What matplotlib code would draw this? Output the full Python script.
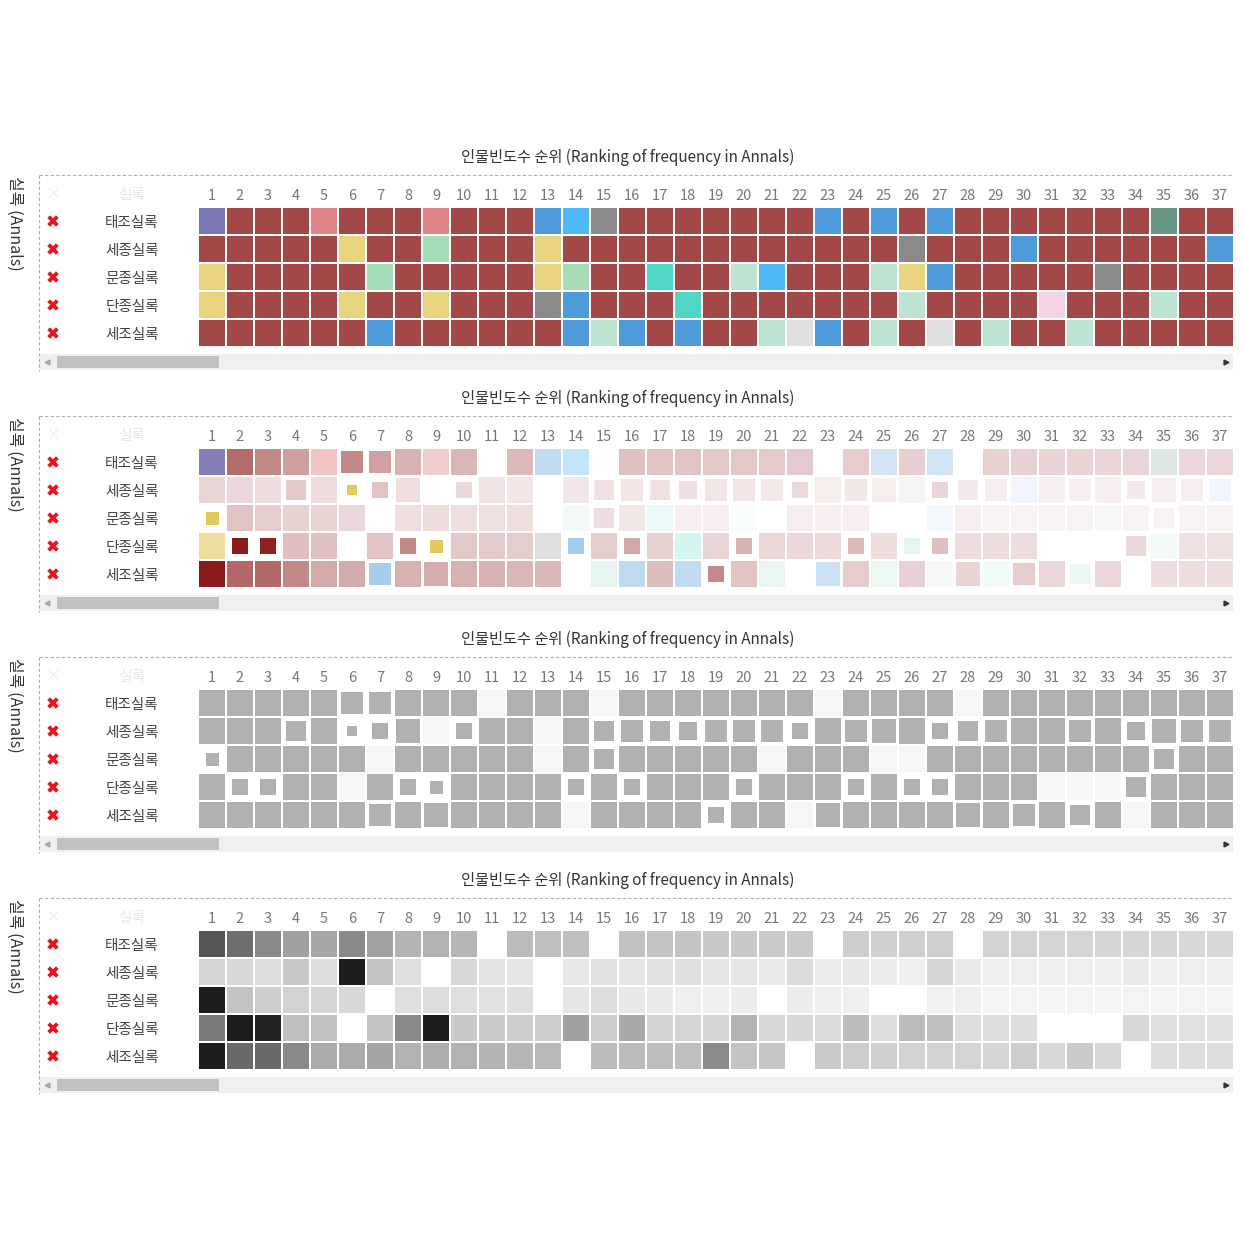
import numpy as np
import matplotlib.pyplot as plt
import matplotlib.colors as mcolors
from matplotlib.patches import Rectangle
from matplotlib.lines import Line2D
from matplotlib.transforms import blended_transform_factory

plt.rcParams['font.family'] = ['Noto Sans CJK KR', 'DejaVu Sans']

W = H = 1243  # figure size in pixels

# ================== DATA ===================
annals = ['태조실록', '세종실록', '문종실록', '단종실록', '세조실록']
ranks = list(range(1, 38))
title = '인물빈도수 순위 (Ranking of frequency in Annals)'
ylabel = '실록 (Annals)'

# person category for each rank, one letter per cell
categories = [
    'PRRRSRRRSRRRBKGRRRRRRRBRBRBRRRRRRRDRR',
    'RRRRRYRRLRRRYRRRRRRRRRRRRGRRRBRRRRRRB',
    'YRRRRRLRRRRRYLRRTRRMKRRRMYBRRRRRGRRRR',
    'YRRRRYRRYRRRGBRRRTRRRRRRRMRRRRNRRRMRR',
    'RRRRRRBRRRRRRBMBRBRRMWBRMRWRMRRMRRRRR',
]
cat_colors = {
    'R': '#8b1a1a', 'P': '#5a56a2', 'S': '#d8656a', 'B': '#2382cf',
    'K': '#21a6f2', 'G': '#6d6d6d', 'Y': '#e2c95e', 'L': '#90d3a4',
    'T': '#23ccb5', 'M': '#acdcc8', 'W': '#d8d8d8', 'D': '#457a64',
    'N': '#f1c9dd',
}

# relative frequency (0 = person absent from that annal)
freq_taejo = [0.75, 0.64, 0.52, 0.42, 0.39, 0.52, 0.41, 0.33, 0.34, 0.32,
              0.00, 0.30, 0.28, 0.28, 0.00, 0.27, 0.26, 0.26, 0.24, 0.24,
              0.23, 0.23, 0.00, 0.22, 0.21, 0.21, 0.21, 0.00, 0.20, 0.20,
              0.19, 0.19, 0.18, 0.18, 0.18, 0.17, 0.17]
freq_sejong = [0.18, 0.17, 0.15, 0.24, 0.15, 1.00, 0.26, 0.14, 0.00, 0.17,
               0.12, 0.11, 0.00, 0.10, 0.13, 0.11, 0.13, 0.14, 0.11, 0.11,
               0.09, 0.16, 0.08, 0.10, 0.08, 0.07, 0.18, 0.09, 0.07, 0.07,
               0.07, 0.07, 0.07, 0.09, 0.07, 0.07, 0.07]
freq_munjong = [1.00, 0.26, 0.22, 0.20, 0.19, 0.17, 0.00, 0.14, 0.15, 0.14,
                0.13, 0.14, 0.00, 0.11, 0.15, 0.10, 0.09, 0.07, 0.07, 0.08,
                0.00, 0.08, 0.07, 0.07, 0.00, 0.00, 0.06, 0.07, 0.05, 0.05,
                0.05, 0.05, 0.05, 0.05, 0.05, 0.05, 0.05]
freq_danjong = [0.59, 1.00, 0.97, 0.28, 0.27, 0.00, 0.26, 0.52, 1.00, 0.24,
                0.23, 0.22, 0.22, 0.42, 0.22, 0.38, 0.20, 0.19, 0.18, 0.33,
                0.17, 0.17, 0.16, 0.30, 0.15, 0.30, 0.28, 0.15, 0.15, 0.15,
                0.00, 0.00, 0.00, 0.17, 0.14, 0.13, 0.13]
freq_sejo = [1.00, 0.66, 0.66, 0.52, 0.37, 0.37, 0.40, 0.34, 0.36, 0.34,
             0.33, 0.32, 0.31, 0.00, 0.30, 0.30, 0.29, 0.28, 0.51, 0.26,
             0.25, 0.00, 0.23, 0.22, 0.21, 0.20, 0.20, 0.19, 0.18, 0.22,
             0.17, 0.23, 0.17, 0.00, 0.15, 0.15, 0.15]
freqs = [freq_taejo, freq_sejong, freq_munjong, freq_danjong, freq_sejo]

# relative mark size (1 = full cell)
size_taejo = [1, 1, 1, 1, 1, 0.81, 0.88, 1, 1, 1,
              1, 1, 1, 1, 1, 1, 1, 1, 1, 1,
              1, 1, 1, 1, 1, 1, 1, 1, 1, 1,
              1, 1, 1, 1, 1, 1, 1]
size_sejong = [1, 1, 1, 0.77, 1, 0.42, 0.64, 0.91, 1, 0.64,
               1, 1, 1, 1, 0.77, 0.88, 0.75, 0.73, 0.87, 0.87,
               0.88, 0.65, 1, 0.81, 0.95, 1, 0.58, 0.80, 0.87, 1,
               1, 0.87, 1, 0.72, 0.96, 0.88, 0.87]
size_munjong = [0.50, 1, 1, 1, 1, 1, 1, 1, 1, 1,
                1, 1, 1, 1, 0.77, 1, 1, 1, 1, 1,
                1, 1, 1, 1, 1, 1, 1, 1, 1, 1,
                1, 1, 1, 1, 0.75, 1, 1]
size_danjong = [1, 0.65, 0.65, 1, 1, 1, 1, 0.65, 0.50, 1,
                1, 1, 1, 0.65, 1, 0.65, 1, 1, 1, 0.65,
                1, 1, 1, 0.65, 1, 0.65, 0.65, 1, 1, 1,
                1, 1, 1, 0.80, 1, 1, 1]
size_sejo = [1, 1, 1, 1, 1, 1, 0.88, 1, 0.96, 1,
             1, 1, 1, 1, 1, 1, 1, 1, 0.65, 1,
             1, 1, 0.95, 1, 1, 1, 1, 0.96, 1, 0.85,
             1, 0.80, 1, 1, 1, 1, 1]
sizes = [size_taejo, size_sejong, size_munjong, size_danjong, size_sejo]

panel_modes = ['category', 'combined', 'size', 'frequency']

CELL = 26 / 28  # cell width relative to pitch


def blend(color, alpha):
    rgb = np.array(mcolors.to_rgb(color))
    return tuple(1 - alpha * (1 - rgb))


def fx(x):
    return x / W


def fy(y):
    return 1 - y / H


fig = plt.figure(figsize=(W / 100, H / 100), dpi=100)

for p, mode in enumerate(panel_modes):
    dy = 241 * p

    # frame decorations
    fig.text(fx(628), fy(157 + dy), title, ha='center', va='center',
             fontsize=11, color='#333333')
    fig.add_artist(Line2D([fx(39), fx(1233)], [fy(175 + dy)] * 2,
                          ls=(0, (3, 2)), lw=0.8, color='#b0b0b0'))
    fig.add_artist(Line2D([fx(39)] * 2, [fy(175 + dy), fy(371 + dy)],
                          ls=(0, (3, 2)), lw=0.8, color='#b0b0b0'))
    fig.text(fx(15), fy(176 + dy), ylabel, rotation=270, ha='center', va='top',
             fontsize=11.5, color='#333333')

    # scrollbar
    fig.add_artist(Rectangle((fx(40), fy(370 + dy)), fx(1193), 16 / H,
                             transform=fig.transFigure, color='#f0f0f0', lw=0))
    fig.add_artist(Rectangle((fx(57), fy(368 + dy)), fx(162), 12 / H,
                             transform=fig.transFigure, color='#c1c1c1', lw=0))
    fig.add_artist(Line2D([fx(47)], [fy(362 + dy)], marker='<', ms=3.5,
                          color='#a8a8a8', ls='none'))
    fig.add_artist(Line2D([fx(1226)], [fy(362 + dy)], marker='>', ms=3.5,
                          color='#333333', ls='none'))

    ax = fig.add_axes([fx(198), fy(347 + dy), 1036 / W, 140 / H])
    ax.set_xlim(0.5, 37.5)
    ax.set_ylim(5.5, 0.5)
    for s in ax.spines.values():
        s.set_visible(False)
    ax.xaxis.tick_top()
    ax.set_xticks(ranks)
    ax.set_xticklabels([str(r) for r in ranks])
    ax.set_yticks([])
    ax.tick_params(axis='x', length=0, pad=3, labelsize=10.5, labelcolor='#777777')

    rows = np.arange(1, len(annals) + 1)
    trans = blended_transform_factory(fig.transFigure, ax.transData)
    ax.text(fx(53), 0.05, '×', transform=trans, ha='center', va='center',
            fontsize=11, color='#eeeeee')
    ax.text(fx(132), 0.08, '실록', transform=trans, ha='center', va='center',
            fontsize=10.5, color='#e8e8e8')
    for r, name in zip(rows, annals):
        ax.text(fx(132), r + 0.08, name, transform=trans, ha='center',
                va='center', fontsize=10.5, color='#444444')
    ax.plot([fx(53)] * len(rows), rows, transform=trans, marker='X', ls='none',
            ms=8, color='#e8141c', mec='white', mew=0.3, clip_on=False)

    for r in range(len(annals)):
        for c in range(len(ranks)):
            v = freqs[r][c]
            base = cat_colors[categories[r][c]]
            s = 1.0
            if mode == 'category':
                color = blend(base, 0.8)
            elif mode == 'combined':
                if v == 0:
                    continue
                color = blend(base, v)
                s = sizes[r][c]
            elif mode == 'size':
                if v == 0:
                    color = '#f6f6f6'
                else:
                    color = '#b1b1b1'
                    s = sizes[r][c]
            else:
                if v == 0:
                    continue
                color = blend('#1c1c1c', v)
            w = CELL * s
            ax.add_patch(Rectangle((ranks[c] - w / 2, r + 1 - w / 2), w, w,
                                   facecolor=color, lw=0))

fig.savefig('out.png', dpi=100, facecolor='white')
